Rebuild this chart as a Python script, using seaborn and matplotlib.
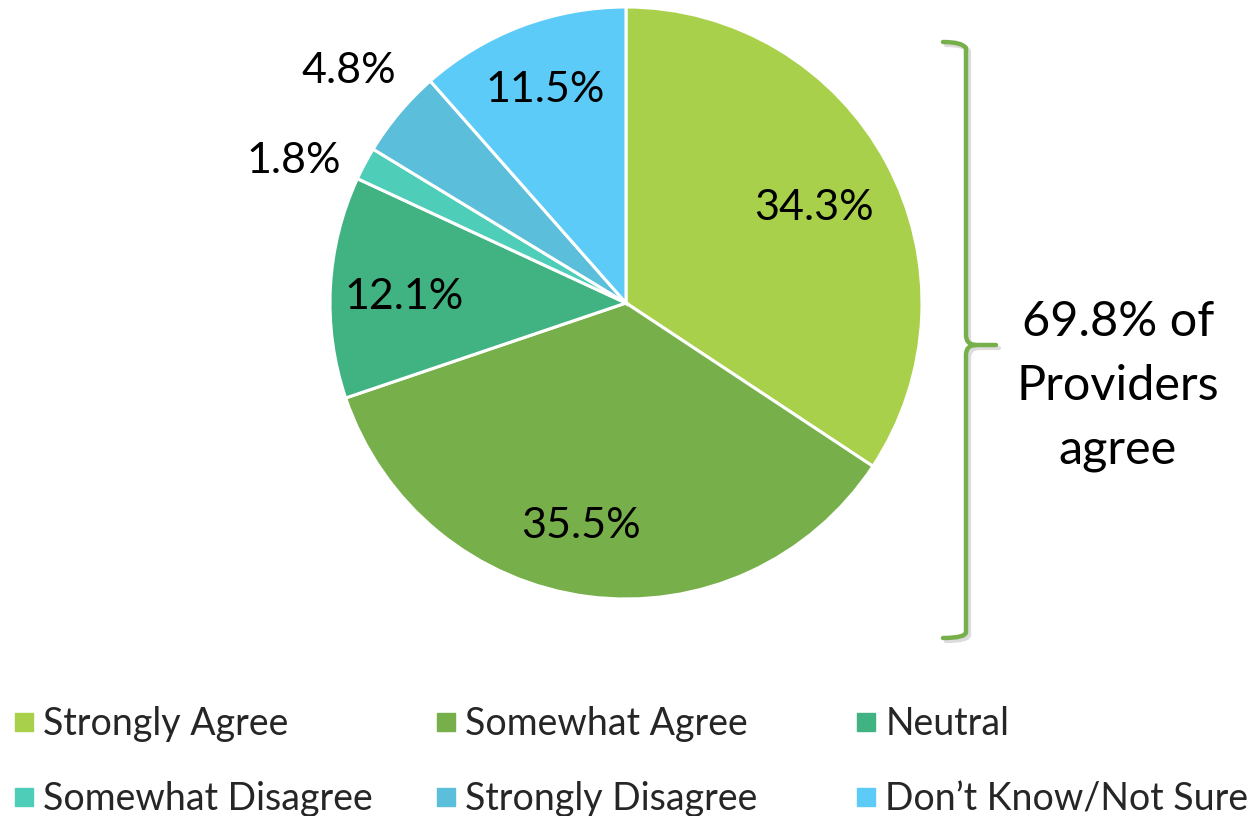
import matplotlib
matplotlib.use("Agg")
import matplotlib.pyplot as plt
import seaborn as sns
from matplotlib.path import Path
from matplotlib.patches import PathPatch
from matplotlib.lines import Line2D
import numpy as np

categories = ["Strongly Agree", "Somewhat Agree", "Neutral",
              "Somewhat Disagree", "Strongly Disagree", "Don\u2019t Know/Not Sure"]
values = [34.3, 35.5, 12.1, 1.8, 4.8, 11.5]
pct_labels = ["34.3%", "35.5%", "12.1%", "1.8%", "4.8%", "11.5%"]
colors = ["#A9D04A", "#77B04A", "#41B382", "#4ECDB8", "#5BBEDA", "#5CCBF8"]
bracket_text = "69.8% of\nProviders\nagree"

sns.set_theme(style="white")
plt.rcParams["font.family"] = ["Lato", "DejaVu Sans"]

W, H = 1259, 816
fig = plt.figure(figsize=(W / 100, H / 100), dpi=100)
fig.patch.set_facecolor("white")

# pie axes: centre (626,303) px, radius 296 px
cx, cy, r = 626, 303, 296
ax = fig.add_axes([(cx - r) / W, (H - cy - r) / H, 2 * r / W, 2 * r / H])
palette = sns.color_palette(colors)
wedges, _ = ax.pie(values, colors=palette, startangle=90, counterclock=False,
                   radius=1.0, wedgeprops=dict(edgecolor="white", linewidth=2.2))
ax.set_xlim(-1, 1)
ax.set_ylim(-1, 1)
ax.set_aspect("equal")
ax.axis("off")

label_dist = [0.71, 0.77, 0.75, 1.22, 1.22, 0.77]
angle_nudge = [-1.5, -4, 1.5, 5, 0, 0]
for w, lab, d, nd in zip(wedges, pct_labels, label_dist, angle_nudge):
    ang = np.deg2rad((w.theta1 + w.theta2) / 2 + nd)
    ax.text(d * np.cos(ang), d * np.sin(ang), lab, ha="center", va="center",
            fontsize=31, color="black", clip_on=False)

# bracket
def fx(x):
    return x / W
def fy(y):
    return 1 - y / H

green = "#77B04A"
verts = [(943, 42), (962, 42), (966, 48), (966, 335), (966, 345), (976, 345),
         (996, 345), (976, 345), (966, 345), (966, 355), (966, 632), (966, 638),
         (943, 638)]
codes = [Path.MOVETO, Path.CURVE3, Path.CURVE3, Path.LINETO, Path.CURVE3, Path.CURVE3,
         Path.LINETO, Path.MOVETO, Path.CURVE3, Path.CURVE3, Path.LINETO, Path.CURVE3,
         Path.CURVE3]
shadow = [(fx(x + 3), fy(y + 3)) for x, y in verts]
main = [(fx(x), fy(y)) for x, y in verts]
fig.patches.append(PathPatch(Path(shadow, codes), transform=fig.transFigure,
                             fill=False, edgecolor="#BBBBBB", lw=3.0, alpha=0.5,
                             capstyle="round", joinstyle="round"))
fig.patches.append(PathPatch(Path(main, codes), transform=fig.transFigure,
                             fill=False, edgecolor=green, lw=3.2,
                             capstyle="round", joinstyle="round"))

fig.text(fx(1118), fy(386), bracket_text, ha="center", va="center",
         fontsize=35, linespacing=1.55, color="black")

# legend: three columns of two entries
col_x = [12.5, 434.5, 854.5]
for c in range(3):
    idx = [c, c + 3]
    handles = [Line2D([0], [0], marker="s", linestyle="none", markersize=13,
                      markerfacecolor=palette[i], markeredgecolor=palette[i])
               for i in idx]
    leg = fig.legend(handles, [categories[i] for i in idx], loc="upper left",
                     bbox_to_anchor=(fx(col_x[c]), fy(706)), frameon=False,
                     fontsize=27, handlelength=0.6, handletextpad=0.22,
                     labelspacing=1.05, borderaxespad=0, borderpad=0)

fig.savefig("out.png", dpi=100, facecolor="white")
